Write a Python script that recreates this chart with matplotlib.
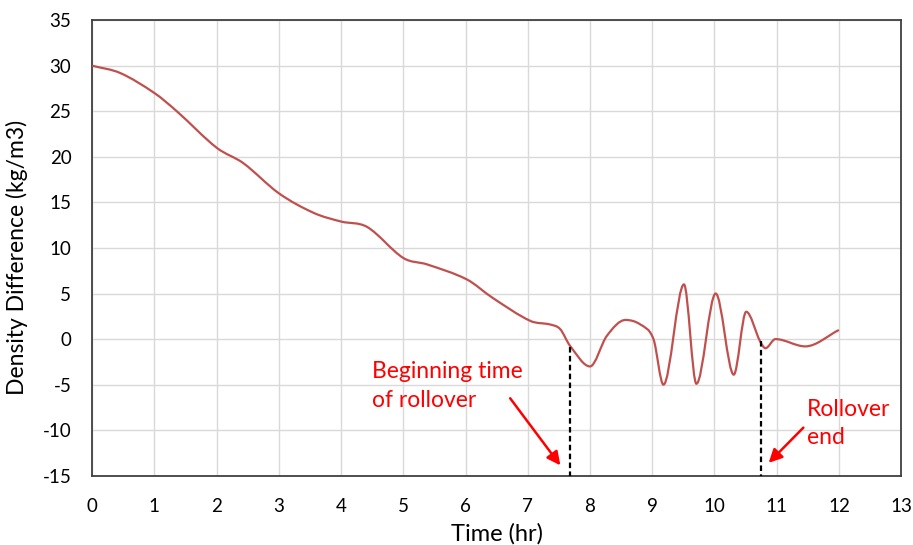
import matplotlib.pyplot as plt
from matplotlib.path import Path
from matplotlib.patches import PathPatch

plt.rcParams['font.family'] = ['Lato', 'DejaVu Sans']
plt.rcParams['axes.unicode_minus'] = False

# density difference readings
time_hr = [0.0, 0.45, 1.0, 1.36, 2.0, 2.43, 3.0, 3.56, 4.0, 4.42, 5.0, 5.38,
           6.02, 6.43, 7.04, 7.36, 7.52, 7.68, 8.0, 8.27, 8.57, 8.81, 9.02,
           9.18, 9.51, 9.71, 10.02, 10.31, 10.51, 10.73, 10.82, 10.98, 11.46, 12.0]
density_diff = [30.0, 29.2, 27.0, 25.0, 21.0, 19.3, 16.0, 13.85, 12.9, 12.3, 8.9, 8.2,
                6.55, 4.55, 2.0, 1.6, 1.1, -0.75, -3.0, 0.35, 2.1, 1.6, 0.0,
                -5.0, 6.0, -4.9, 5.0, -3.9, 3.0, -0.2, -1.0, 0.0, -0.8, 1.0]

rollover_start = 7.68
rollover_end = 10.74
start_top = -0.9
end_top = -0.2


def smooth_path(xs, ys):
    # cubic hermite segments as bezier curves, flat tangent at turning points
    n = len(xs)
    slopes = []
    for i in range(n):
        if i == 0:
            m = (ys[1] - ys[0]) / (xs[1] - xs[0])
        elif i == n - 1:
            m = (ys[-1] - ys[-2]) / (xs[-1] - xs[-2])
        elif (ys[i] - ys[i - 1]) * (ys[i + 1] - ys[i]) <= 0:
            m = 0.0
        else:
            m = (ys[i + 1] - ys[i - 1]) / (xs[i + 1] - xs[i - 1])
        slopes.append(m)
    verts = [(xs[0], ys[0])]
    codes = [Path.MOVETO]
    for i in range(n - 1):
        h = xs[i + 1] - xs[i]
        verts += [(xs[i] + h / 3, ys[i] + slopes[i] * h / 3),
                  (xs[i + 1] - h / 3, ys[i + 1] - slopes[i + 1] * h / 3),
                  (xs[i + 1], ys[i + 1])]
        codes += [Path.CURVE4] * 3
    return Path(verts, codes)


fig = plt.figure(figsize=(9.13, 5.45), dpi=100)
ax = fig.add_axes([0.101, 0.127, 0.886, 0.836])

ax.set_xlim(0, 13)
ax.set_ylim(-15, 35)
ax.set_xticks(range(0, 14))
ax.set_yticks(range(-15, 36, 5))
ax.grid(True, color='#d9d9d9', linewidth=1.0)
ax.set_axisbelow(True)
ax.tick_params(length=0, labelsize=13.5, colors='black')
ax.tick_params(axis='y', pad=15)
ax.tick_params(axis='x', pad=16)
for s in ax.spines.values():
    s.set_color('#404040')
    s.set_linewidth(1.3)

ax.add_patch(PathPatch(smooth_path(time_hr, density_diff), facecolor='none',
                       edgecolor='#c0504d', linewidth=1.6, zorder=3))

ax.plot([rollover_start, rollover_start], [start_top, -15], color='black',
        linestyle=(0, (2.5, 1.5)), linewidth=1.6, zorder=4)
ax.plot([rollover_end, rollover_end], [end_top, -15], color='black',
        linestyle=(0, (2.5, 1.5)), linewidth=1.6, zorder=4)

ax.annotate('', xy=(7.55, -14.1), xytext=(6.69, -6.25),
            arrowprops=dict(arrowstyle='-|>', color='red', lw=1.8,
                            mutation_scale=20))
ax.annotate('', xy=(10.84, -13.8), xytext=(11.46, -9.5),
            arrowprops=dict(arrowstyle='-|>', color='red', lw=1.8,
                            mutation_scale=20))
ax.text(4.49, -2.4, 'Beginning time\nof rollover', color='red', fontsize=16.5,
        va='top', ha='left', linespacing=1.45)
ax.text(11.49, -6.6, 'Rollover\nend', color='red', fontsize=16.5,
        va='top', ha='left', linespacing=1.4)

ax.set_xlabel('Time (hr)', fontsize=17, labelpad=6)
ax.set_ylabel('Density Difference (kg/m3)', fontsize=16.5)
ax.yaxis.set_label_coords(-0.079, 0.48)

fig.savefig('out.png', dpi=100)
